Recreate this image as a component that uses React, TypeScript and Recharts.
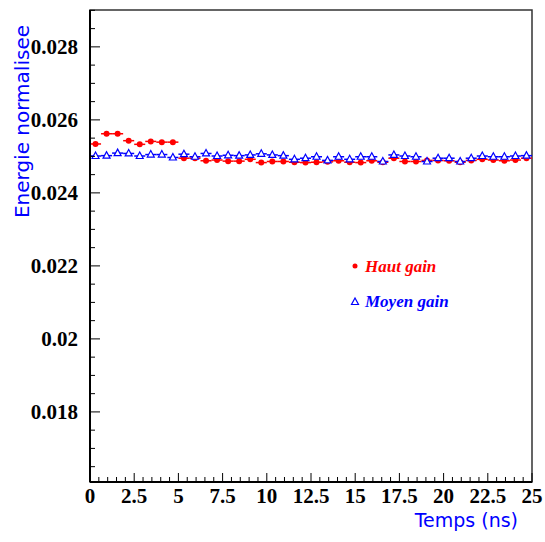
import React from "react";
import {
  ScatterChart,
  Scatter,
  XAxis,
  YAxis,
  ErrorBar,
  ReferenceArea,
  Label,
} from "recharts";

// bin centres (ns), bin width 0.625
const timeBins = [
  0.3125, 0.9375, 1.5625, 2.1875, 2.8125, 3.4375, 4.0625, 4.6875, 5.3125, 5.9375,
  6.5625, 7.1875, 7.8125, 8.4375, 9.0625, 9.6875, 10.3125, 10.9375, 11.5625, 12.1875,
  12.8125, 13.4375, 14.0625, 14.6875, 15.3125, 15.9375, 16.5625, 17.1875, 17.8125, 18.4375,
  19.0625, 19.6875, 20.3125, 20.9375, 21.5625, 22.1875, 22.8125, 23.4375, 24.0625, 24.6875,
];
const halfBin = 0.3125;

const hautGain = [
  0.02534, 0.02562, 0.02562, 0.02543, 0.02533, 0.02541, 0.02539, 0.02539, 0.02495, 0.02495,
  0.02488, 0.0249, 0.02487, 0.02487, 0.02492, 0.02483, 0.02486, 0.02486, 0.02484, 0.02483,
  0.02484, 0.02485, 0.02488, 0.02484, 0.02483, 0.02488, 0.02484, 0.02495, 0.02486, 0.02486,
  0.02489, 0.02489, 0.02488, 0.02484, 0.02489, 0.02492, 0.0249, 0.02488, 0.0249, 0.02495,
];
const moyenGain = [
  0.02501, 0.02502, 0.02509, 0.02508, 0.02501, 0.02505, 0.02505, 0.02497, 0.02506, 0.02499,
  0.02508, 0.02501, 0.02503, 0.02502, 0.02504, 0.02507, 0.02504, 0.02502, 0.02492, 0.02495,
  0.02499, 0.02489, 0.02499, 0.02492, 0.02499, 0.02499, 0.02486, 0.02504, 0.02501, 0.02499,
  0.02486, 0.02495, 0.02495, 0.02486, 0.02495, 0.02501, 0.02499, 0.02499, 0.02501, 0.02502,
];

const xMajorTicks = [0, 2.5, 5, 7.5, 10, 12.5, 15, 17.5, 20, 22.5, 25];
const xMinorTicks = [
  0.5, 1, 1.5, 2, 3, 3.5, 4, 4.5, 5.5, 6, 6.5, 7, 8, 8.5, 9, 9.5, 10.5, 11, 11.5, 12,
  13, 13.5, 14, 14.5, 15.5, 16, 16.5, 17, 18, 18.5, 19, 19.5, 20.5, 21, 21.5, 22, 23,
  23.5, 24, 24.5,
];
const yMajorTicks = [0.018, 0.02, 0.022, 0.024, 0.026, 0.028];
const yMinorTicks = [
  0.0165, 0.017, 0.0175, 0.0185, 0.019, 0.0195, 0.0205, 0.021, 0.0215, 0.0225, 0.023,
  0.0235, 0.0245, 0.025, 0.0255, 0.0265, 0.027, 0.0275, 0.0285, 0.029,
];
const xDomain: [number, number] = [0, 25];
const yDomain: [number, number] = [0.01608, 0.02901];

const RED = "#ff0000";
const BLUE = "#0000ff";
const tickFont = "'Liberation Serif', 'Times New Roman', serif";
const titleFont = "'DejaVu Sans', sans-serif";

const toPoints = (values: number[]) =>
  values.map((v, i) => ({ x: timeBins[i], y: v, ex: halfBin }));

const hautData = toPoints(hautGain);
const moyenData = toPoints(moyenGain);

const X_MARGIN = 20;
const Y_MARGIN = 12;

function XTick(props: any) {
  const { x, y, payload } = props;
  const major = xMajorTicks.includes(payload.value);
  const axisY = y - X_MARGIN;
  return (
    <g>
      <line x1={x} x2={x} y1={axisY} y2={axisY - (major ? 9 : 5)} stroke="#000" strokeWidth={1} />
      {major && (
        <text x={x} y={y + 1} textAnchor="middle" fontFamily={tickFont} fontWeight="bold" fontSize={21} fill="#000">
          {payload.value}
        </text>
      )}
    </g>
  );
}

function YTick(props: any) {
  const { x, y, payload } = props;
  const major = yMajorTicks.some((t) => Math.abs(t - payload.value) < 1e-9);
  const axisX = x + Y_MARGIN;
  return (
    <g>
      <line x1={axisX} x2={axisX + (major ? 10 : 5)} y1={y} y2={y} stroke="#000" strokeWidth={1} />
      {major && (
        <text x={x} y={y} dy={7} textAnchor="end" fontFamily={tickFont} fontWeight="bold" fontSize={21} fill="#000">
          {String(payload.value)}
        </text>
      )}
    </g>
  );
}

function Triangle({ cx, cy, color = BLUE }: any) {
  return (
    <polygon
      points={`${cx},${cy - 4} ${cx - 3.5},${cy + 2.5} ${cx + 3.5},${cy + 2.5}`}
      fill="#fff"
      stroke={color}
      strokeWidth={1.2}
    />
  );
}

function Dot({ cx, cy }: any) {
  return <circle cx={cx} cy={cy} r={3} fill={RED} />;
}

function LegendBox() {
  return (
    <svg width={160} height={70} style={{ position: "absolute", left: 345, top: 254 }}>
      <circle cx={10} cy={12} r={2.5} fill={RED} />
      <text x={20} y={18} fontFamily={tickFont} fontWeight="bold" fontStyle="italic" fontSize={17} fill={RED}>
        Haut gain
      </text>
      <Triangle cx={10} cy={48} />
      <text x={20} y={53} fontFamily={tickFont} fontWeight="bold" fontStyle="italic" fontSize={17} fill={BLUE}>
        Moyen gain
      </text>
    </svg>
  );
}

export default function App() {
  return (
    <div style={{ position: "fixed", left: 0, top: 0, width: 545, height: 542, background: "#fff" }}>
      <ScatterChart width={545} height={542} margin={{ top: 10, right: 13, bottom: 30, left: 0 }}>
        <XAxis
          type="number"
          dataKey="x"
          domain={xDomain}
          ticks={[...xMajorTicks, ...xMinorTicks].sort((a, b) => a - b)}
          interval={0}
          tickSize={0}
          tickMargin={X_MARGIN}
          tick={<XTick />}
          tickLine={false}
          axisLine={{ stroke: "#000", strokeWidth: 2 }}
          height={30}
          allowDataOverflow
        >
          <Label
            content={({ viewBox }: any) => (
              <text
                x={viewBox.x + viewBox.width - 14}
                y={viewBox.y + 45}
                textAnchor="end"
                fontFamily={titleFont}
                fontSize={19}
                fill={BLUE}
              >
                Temps (ns)
              </text>
            )}
          />
        </XAxis>
        <YAxis
          type="number"
          dataKey="y"
          domain={yDomain}
          ticks={[...yMajorTicks, ...yMinorTicks].sort((a, b) => a - b)}
          interval={0}
          tickSize={0}
          tickMargin={Y_MARGIN}
          tick={<YTick />}
          tickLine={false}
          axisLine={{ stroke: "#000", strokeWidth: 2 }}
          width={90}
          allowDataOverflow
        >
          <Label
            content={({ viewBox }: any) => (
              <text
                x={29}
                y={viewBox.y + 15}
                transform={`rotate(-90, 29, ${viewBox.y + 15})`}
                textAnchor="end"
                fontFamily={titleFont}
                fontSize={20}
                fill={BLUE}
              >
                Energie normalisee
              </text>
            )}
          />
        </YAxis>
        <ReferenceArea
          x1={xDomain[0]}
          x2={xDomain[1]}
          y1={yDomain[0]}
          y2={yDomain[1]}
          fill="none"
          fillOpacity={0}
          stroke="#333"
          strokeWidth={1.5}
        />
        <Scatter data={hautData} dataKey="y" shape={<Dot />} isAnimationActive={false}>
          <ErrorBar dataKey="ex" direction="x" width={0} stroke={RED} strokeWidth={1.5} isAnimationActive={false} />
        </Scatter>
        <Scatter data={moyenData} dataKey="y" shape={<Triangle />} isAnimationActive={false}>
          <ErrorBar dataKey="ex" direction="x" width={0} stroke={BLUE} strokeWidth={1.5} isAnimationActive={false} />
        </Scatter>
      </ScatterChart>
      <LegendBox />
    </div>
  );
}
